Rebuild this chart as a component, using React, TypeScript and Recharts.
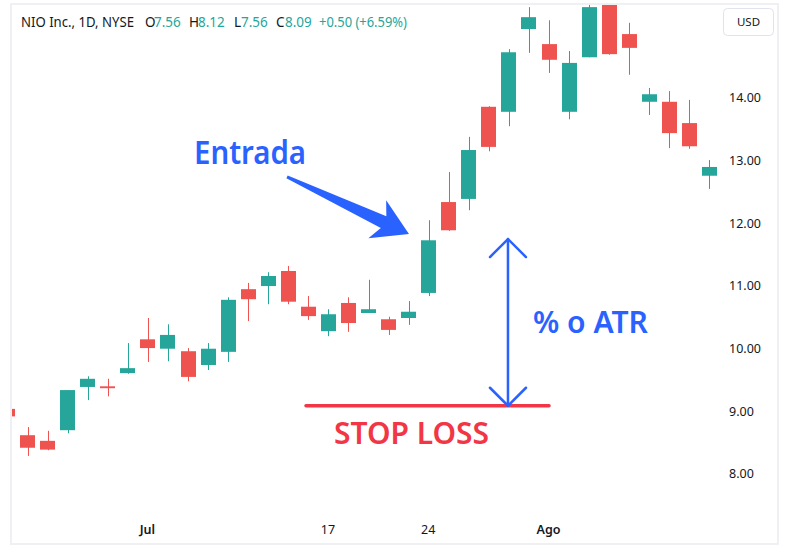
import { ComposedChart, Bar, XAxis, YAxis, ReferenceLine, ReferenceDot } from "recharts";

const days = [
  "Jun 22", "Jun 23", "Jun 26", "Jun 27", "Jun 28", "Jun 29", "Jun 30",
  "Jul 3", "Jul 5", "Jul 6", "Jul 7", "Jul 10", "Jul 11", "Jul 12", "Jul 13", "Jul 14",
  "Jul 17", "Jul 18", "Jul 19", "Jul 20", "Jul 21", "Jul 24", "Jul 25", "Jul 26", "Jul 27", "Jul 28",
  "Jul 31", "Aug 1", "Aug 2", "Aug 3", "Aug 4", "Aug 7", "Aug 8", "Aug 9", "Aug 10", "Aug 11",
];
const opens = [
  9.04, 8.62, 8.53, 8.7, 9.39, 9.4, 9.61, 10.15, 10.0, 9.96, 9.74, 9.95, 10.95, 11.0, 11.24, 10.67,
  10.28, 10.73, 10.57, 10.47, 10.49, 10.89, 12.34, 12.39, 13.86, 13.78, 15.1, 14.86, 13.78, 14.65,
  15.65, 15.02, 13.94, 13.94, 13.6, 12.76,
];
const highs = [
  9.1, 8.75, 8.69, 9.34, 9.56, 9.52, 10.09, 10.49, 10.39, 10.01, 10.09, 10.82, 11.05, 11.22, 11.32, 10.84,
  10.63, 10.82, 11.1, 10.51, 10.76, 12.05, 12.82, 13.38, 13.87, 14.78, 15.45, 15.24, 14.75, 15.5,
  15.8, 15.2, 14.16, 14.11, 13.97, 13.01,
];
const lows = [
  8.85, 8.29, 8.38, 8.65, 9.18, 9.24, 9.6, 9.79, 9.8, 9.48, 9.66, 9.79, 10.44, 10.71, 10.71, 10.46,
  10.2, 10.27, 10.57, 10.22, 10.38, 10.84, 11.88, 12.21, 13.15, 13.55, 14.72, 14.4, 13.66, 14.65,
  14.69, 14.37, 13.73, 13.2, 13.19, 12.55,
];
const closes = [
  8.92, 8.42, 8.39, 9.34, 9.52, 9.37, 9.69, 10.01, 10.22, 9.55, 10.0, 10.78, 10.79, 11.16, 10.75, 10.52,
  10.55, 10.41, 10.63, 10.3, 10.59, 11.73, 11.89, 13.17, 13.22, 14.73, 15.29, 14.61, 14.56, 15.45,
  14.7, 14.8, 14.06, 13.44, 13.23, 12.9,
];

const priceTicks = [8, 9, 10, 11, 12, 13, 14];
const dateTicks = ["Jul 3", "Jul 17", "Jul 24", "Aug 1"];
const dateTickLabels = ["Jul", "17", "24", "Ago"];
const monthTicks = ["Jul", "Ago"];

// drawings: x on the 0..35 bar-index axis, y in price
const entryArrow = [{ x: 14.06, y: 12.74 }, { x: 19.97, y: 11.83 }];
const atrArrow = [{ x: 24.77, y: 11.75 }, { x: 24.77, y: 9.09 }];
const stopLine = [{ x: 14.98, y: 9.09 }, { x: 26.76, y: 9.09 }];
const entryLabel = { x: 9.55, y: 12.947, text: "Entrada" };
const atrLabel = { x: 25.98, y: 10.25, text: "% o ATR" };
const stopLabel = { x: 16.34, y: 8.48, text: "STOP LOSS" };

const GREEN = "#26a69a";
const RED = "#ef5350";
const BLUE = "#2962ff";
const STOP = "#f23645";
const TEXT = "#131722";
const FONT = "'Noto Sans', sans-serif";

const data = days.map((d, i) => ({
  day: d,
  idx: i,
  open: opens[i],
  high: highs[i],
  low: lows[i],
  close: closes[i],
  range: [lows[i], highs[i]],
}));

function Candle(props: any) {
  const { x, y, width, height, payload } = props;
  const { open, close, high, low } = payload;
  const top = Math.min(y, y + height);
  const h = Math.abs(height);
  const k = h / (high - low || 1);
  const py = (p: number) => top + (high - p) * k;
  const color = close >= open ? GREEN : RED;
  const cx = Math.round(x + width / 2) + 0.5;
  const bTop = py(Math.max(open, close));
  const bH = Math.max(1, py(Math.min(open, close)) - bTop);
  return (
    <g>
      <line x1={cx} x2={cx} y1={top} y2={top + h} stroke={color} strokeWidth={1} />
      <rect x={Math.round(x)} y={bTop} width={width} height={bH} fill={color} />
    </g>
  );
}

function EntryArrow(p: any) {
  const { x1, y1, x2, y2 } = p;
  const dx = x2 - x1;
  const dy = y2 - y1;
  const L = Math.hypot(dx, dy);
  const ux = dx / L, uy = dy / L, nx = -uy, ny = ux;
  const pt = (a: number, b: number) => `${x1 + ux * a + nx * b},${y1 + uy * a + ny * b}`;
  const pts = [pt(0, -1.5), pt(L - 28, -6.5), pt(L - 35, -21), pt(L, 0), pt(L - 35, 21), pt(L - 28, 6.5), pt(0, 1.5)];
  return <polygon points={pts.join(" ")} fill={BLUE} />;
}

function AtrArrow(p: any) {
  const { x1, y1, x2, y2 } = p;
  const a = 18;
  return (
    <g stroke={BLUE} strokeWidth={2.5} strokeLinecap="round" strokeLinejoin="round" fill="none">
      <line x1={x1} y1={y1} x2={x2} y2={y2} />
      <polyline points={`${x1 - a},${y1 + a} ${x1},${y1} ${x1 + a},${y1 + a}`} />
      <polyline points={`${x2 - a},${y2 - a} ${x2},${y2} ${x2 + a},${y2 - a}`} />
    </g>
  );
}

function StopShape(p: any) {
  return (
    <line x1={p.x1} y1={p.y1} x2={p.x2} y2={p.y2} stroke={STOP} strokeWidth={3.5} strokeLinecap="round" />
  );
}

const labelShape = (text: string, color: string, size: number, len: number) => (p: any) => (
  <text
    x={p.cx}
    y={p.cy}
    fill={color}
    fontSize={size}
    fontWeight={600}
    fontFamily={FONT}
    textLength={len}
    lengthAdjust="spacingAndGlyphs"
  >
    {text}
  </text>
);

function PriceTick(props: any) {
  const { x, y, payload } = props;
  return (
    <text x={x} y={y} dy="0.35em" fill={TEXT} fontSize={12.5} fontFamily={FONT} textAnchor="start">
      {payload.value.toFixed(2)}
    </text>
  );
}

function DateTick(props: any) {
  const { x, y, payload } = props;
  const label = dateTickLabels[dateTicks.indexOf(payload.value)] ?? "";
  return (
    <text
      x={x}
      y={y + 28.6}
      fill={TEXT}
      fontSize={12.5}
      fontFamily={FONT}
      fontWeight={monthTicks.includes(label) ? 600 : 400}
      textAnchor="middle"
    >
      {label}
    </text>
  );
}

const header = [
  { x: 21, t: "NIO Inc., 1D, NYSE", c: TEXT, w: 113 },
  { x: 145, t: "O", c: TEXT },
  { x: 154, t: "7.56", c: GREEN },
  { x: 189, t: "H", c: TEXT },
  { x: 198, t: "8.12", c: GREEN },
  { x: 234, t: "L", c: TEXT },
  { x: 241, t: "7.56", c: GREEN },
  { x: 276, t: "C", c: TEXT },
  { x: 285, t: "8.09", c: GREEN },
  { x: 319, t: "+0.50 (+6.59%)", c: GREEN, w: 88 },
];

export default function App() {
  return (
    <div style={{ position: "absolute", left: 0, top: 0, width: 789, height: 549, background: "#fff" }}>
      <div
        style={{
          position: "absolute",
          left: 10,
          top: 3,
          width: 769,
          height: 542,
          border: "2px solid #eef0f4",
          boxSizing: "border-box",
          overflow: "hidden",
        }}
      >
        <div style={{ position: "absolute", left: -15, top: -5 }}>
          <ComposedChart
            width={782}
            height={549}
            data={data}
            margin={{ top: 4, right: 0, bottom: 3.6, left: 0 }}
          >
            <XAxis
              dataKey="day"
              ticks={dateTicks}
              interval={0}
              axisLine={false}
              tickLine={false}
              tickSize={0}
              tickMargin={0}
              height={40}
              tick={<DateTick />}
            />
            <XAxis xAxisId="n" dataKey="idx" type="number" domain={[0, 35]} allowDataOverflow hide height={0} />
            <YAxis
              orientation="right"
              width={60}
              domain={[7.5, 15.5]}
              allowDataOverflow
              ticks={priceTicks}
              axisLine={false}
              tickLine={false}
              tickSize={0}
              tickMargin={10}
              tick={<PriceTick />}
            />
            <Bar dataKey="range" barSize={15} shape={<Candle />} isAnimationActive={false} />
            <ReferenceLine xAxisId="n" segment={entryArrow} shape={EntryArrow} />
            <ReferenceLine xAxisId="n" segment={stopLine} shape={StopShape} />
            <ReferenceLine xAxisId="n" segment={atrArrow} shape={AtrArrow} />
            <ReferenceDot xAxisId="n" x={entryLabel.x} y={entryLabel.y} r={1} shape={labelShape(entryLabel.text, BLUE, 32, 112)} />
            <ReferenceDot xAxisId="n" x={atrLabel.x} y={atrLabel.y} r={1} shape={labelShape(atrLabel.text, BLUE, 31, 115)} />
            <ReferenceDot xAxisId="n" x={stopLabel.x} y={stopLabel.y} r={1} shape={labelShape(stopLabel.text, STOP, 30, 155)} />
          </ComposedChart>
        </div>
      </div>
      <svg width={789} height={549} style={{ position: "absolute", left: 0, top: 0, pointerEvents: "none" }}>
        {header.map((h) => (
          <text
            key={h.x}
            x={h.x}
            y={26.5}
            fill={h.c}
            fontSize={13.5}
            fontFamily={FONT}
            textLength={h.w}
            lengthAdjust={h.w ? "spacingAndGlyphs" : undefined}
          >
            {h.t}
          </text>
        ))}
        <rect x={723.5} y={8.5} width={50} height={27} rx={4} fill="#fff" stroke="#e0e3eb" />
        <text x={748.5} y={26} textAnchor="middle" fill={TEXT} fontSize={11.5} fontFamily={FONT}>
          USD
        </text>
      </svg>
    </div>
  );
}
